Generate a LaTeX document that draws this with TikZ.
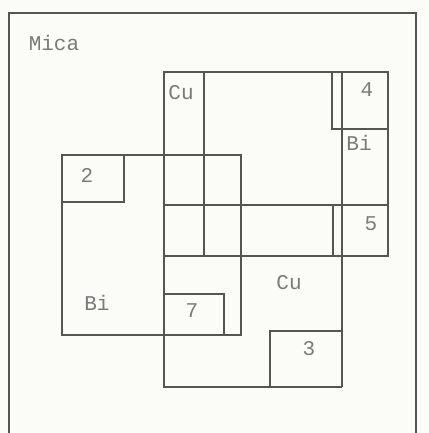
\documentclass[tikz,border=0pt]{standalone}
\usepackage{fontspec}
\setmonofont{Liberation Mono}
\usetikzlibrary{calc}
\definecolor{pencil}{HTML}{555555}
\definecolor{inkgray}{HTML}{7A7A7A}
\definecolor{paper}{HTML}{FBFBF8}
\tikzset{lbl/.style={text=inkgray, inner sep=0pt}}

\begin{document}
\begin{tikzpicture}[x=1pt, y=-1pt, line width=1.3pt, pencil, font=\ttfamily\fontsize{21}{23}\selectfont]
    \fill[paper] (0,0) rectangle (428,433);
    \useasboundingbox (0,0) rectangle (428,433);
    % mica sheet, cut off at the bottom
    \draw (9,445) -- (9,13) -- (416,13) -- (416,445);
    % upper copper strip
    \draw (164,72) rectangle (388,256);
    \draw (204,72) -- (204,256);
    \draw (164,205) -- (388,205);
    \draw (332,72) -- (332,129) -- (388,129);
    \draw (342,72) -- (342,387);
    \draw (333,205) -- (333,256);
    % lower copper strip
    \draw (164,256) -- (164,387) -- (342,387);
    \draw (270,387) |- (342,331);
    % bismuth
    \draw (62,155) rectangle (241,335);
    \draw (62,202) -| (124,155);
    \draw (164,294) -| (224,335);
    % labels
    \node[lbl] (mica) at (54,43) {Mica};
    \node[lbl] (cuA) at (181,93) {Cu};
    \node[lbl] (cuB) at (289,283) {Cu};
    \node[lbl] (biA) at (359,143) {Bi};
    \node[lbl] (biB) at (97,303) {Bi};
    \node[lbl] (n2) at (87,175) {2};
    \node[lbl] (n3) at (309,349) {3};
    \node[lbl] (n4) at (367,90) {4};
    \node[lbl] (n5) at (371,224) {5};
    \node[lbl] (n7) at (192,311) {7};
\end{tikzpicture}
\end{document}
